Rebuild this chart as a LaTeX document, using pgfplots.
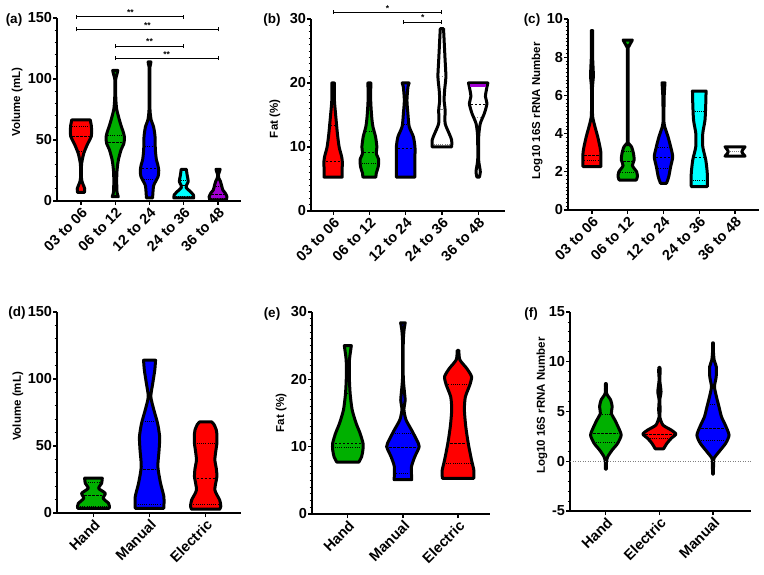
\documentclass[border=0pt]{standalone}
\usepackage{fontspec}
\setmainfont{Liberation Sans}
\usepackage{pgfplots}
\pgfplotsset{compat=1.18}
\usepgfplotslibrary{fillbetween}
\usepackage{pgfplotstable}

\definecolor{vred}{RGB}{255,0,0}
\definecolor{vgreen}{RGB}{0,176,0}
\definecolor{vblue}{RGB}{0,0,255}
\definecolor{vcyan}{RGB}{0,255,255}
\definecolor{vpurple}{RGB}{160,0,210}

% violin outlines: y value and half width (category units)
\pgfplotstableread{
y w
7 0.10
10 0.11
13 0.07
16 0.03
20 0.01
26 0.01
31 0.02
34 0.04
39 0.08
46 0.18
53 0.30
58 0.31
62 0.30
65 0.28
66.5 0.27
}\aRed
\pgfplotstableread{
y w
3.5 0.09
6 0.06
10 0.045
22 0.045
30 0.07
34 0.093
42 0.17
47 0.25
52 0.27
56 0.24
61 0.18
66 0.125
75 0.044
82 0.02
90 0.01
100 0.015
104 0.05
107 0.075
}\aGreen
\pgfplotstableread{
y w
2.5 0.09
7 0.10
13 0.125
20 0.25
25 0.27
30 0.24
34 0.20
42 0.17
53 0.16
61 0.117
66 0.052
72 0.02
80 0.01
108 0.01
112 0.03
114 0.04
}\aBlue
\pgfplotstableread{
y w
2.5 0.29
5 0.28
8 0.18
11 0.07
13 0.08
16 0.13
21 0.10
26 0.075
}\aCyan
\pgfplotstableread{
y w
1 0.24
3.5 0.26
6.5 0.21
9 0.14
12 0.11
16 0.07
19 0.02
21.5 0.01
24 0.04
26 0.06
}\aPurple

\pgfplotstableread{
y w
5.3 0.25
6.4 0.245
7.5 0.257
8.5 0.235
10 0.166
12 0.12
14.7 0.075
17.3 0.036
20 0.035
}\bRed
\pgfplotstableread{
y w
5.3 0.18
5.9 0.19
6.9 0.243
8 0.257
9 0.19
10 0.207
11.6 0.17
13.2 0.097
14.7 0.064
17.3 0.036
20 0.04
}\bGreen
\pgfplotstableread{
y w
5.3 0.257
8.5 0.257
10 0.257
11.6 0.213
13.2 0.097
15.3 0.061
17.3 0.036
19.4 0.064
20 0.097
}\bBlue
\pgfplotstableread{
y w
10 0.27
11.1 0.268
12.1 0.2
13.7 0.088
15.8 0.088
17.3 0.061
18.9 0.075
21 0.11
23.6 0.088
26.7 0.061
28.5 0.045
}\bWhite
\pgfplotstableread{
y w
5.3 0.035
6.1 0.06
6.9 0.04
8 0.012
10.6 0.012
12.1 0.02
13.7 0.06
15.3 0.174
16.8 0.243
17.9 0.2
19.4 0.243
20 0.268
}\bPurple
\pgfplotstableread{
y w
19.35 0.22
19.85 0.22
}\bBand

\pgfplotstableread{
y w
2.27 0.252
2.6 0.252
3.0 0.25
3.3 0.224
3.84 0.16
4.36 0.084
4.88 0.02
5.6 0.01
6.46 0.015
7.0 0.04
7.5 0.03
8.2 0.015
9.39 0.02
}\cRed
\pgfplotstableread{
y w
1.57 0.24
1.74 0.27
2.0 0.25
2.32 0.13
2.62 0.18
2.97 0.16
3.31 0.106
3.5 0.02
3.7 0.01
8.3 0.01
8.55 0.03
8.9 0.13
}\cGreen
\pgfplotstableread{
y w
1.4 0.084
1.74 0.146
2.27 0.2
2.79 0.258
3.31 0.2
3.84 0.126
4.36 0.034
4.71 0.008
5.41 0.014
6.1 0.022
6.66 0.042
}\cBlue
\pgfplotstableread{
y w
1.22 0.224
1.92 0.224
2.62 0.182
3.31 0.098
4.02 0.098
4.71 0.16
5.59 0.182
6.23 0.19
}\cCyan
\pgfplotstableread{
y w
2.82 0.28
3.05 0.19
3.31 0.28
}\cWhite

\pgfplotstableread{
y w
3.5 0.28
5 0.285
7.2 0.27
11 0.173
14.7 0.21
18.4 0.093
22.2 0.146
26 0.157
}\dGreen
\pgfplotstableread{
y w
3.5 0.255
12.2 0.255
22.2 0.196
34.6 0.148
47 0.17
56.9 0.18
66.9 0.143
76.9 0.077
86.8 0.023
96.8 0.057
106.7 0.093
114 0.107
}\dBlue
\pgfplotstableread{
y w
2.8 0.25
5 0.27
9.7 0.25
17.2 0.164
27.1 0.2
33 0.19
39.6 0.164
46 0.18
52 0.2
59 0.2
62 0.19
66 0.15
68 0.107
}\dRed

\pgfplotstableread{
y w
7.7 0.2
8.5 0.25
9.5 0.274
10.5 0.276
12 0.222
13.5 0.149
15.5 0.078
17.9 0.042
20.4 0.027
22.9 0.03
25 0.064
}\eGreen
\pgfplotstableread{
y w
5.1 0.16
7 0.155
8.5 0.215
10 0.295
11 0.25
12.5 0.155
14 0.055
15.5 0.018
16.9 0.04
18.4 0.024
20.4 0.006
25.4 0.006
27.3 0.02
28.4 0.042
}\eBlue
\pgfplotstableread{
y w
5.3 0.285
6.5 0.287
8 0.245
10.5 0.185
13 0.14
15.5 0.115
17.4 0.133
19.2 0.215
20.4 0.245
21.6 0.16
22.9 0.033
24.3 0.015
}\eRed

\pgfplotstableread{
y w
-0.8 0.008
-0.05 0.011
0.45 0.034
1.13 0.118
1.8 0.22
2.63 0.286
3.47 0.228
4.14 0.168
4.81 0.103
5.48 0.118
6.15 0.09
6.82 0.013
7.8 0.008
}\fGreen
\pgfplotstableread{
y w
1.25 0.078
1.8 0.14
2.3 0.22
2.73 0.308
3.14 0.22
3.64 0.065
4.47 0.006
5.15 0.015
6.15 0.006
6.99 0.03
8.16 0.006
9.1 0.015
9.44 0.008
}\fRed
\pgfplotstableread{
y w
-1.3 0.008
-0.2 0.011
0.3 0.019
0.95 0.112
1.8 0.237
2.63 0.3
3.64 0.23
4.47 0.159
5.48 0.112
6.48 0.065
7.49 0.028
8.49 0.06
9.5 0.062
10.17 0.022
11.18 0.006
11.9 0.006
}\fBlue

% #1 centre, #2 fill, #3 table, #4 id
\newcommand{\violin}[4]{%
  \addplot[draw=none, forget plot, smooth, tension=0.4, name path=R#4] table[x expr={#1+\thisrow{w}}, y=y] {#3};
  \addplot[draw=none, forget plot, smooth, tension=0.4, name path=L#4] table[x expr={#1-\thisrow{w}}, y=y] {#3};
  \addplot[fill=#2, draw=black, line width=3pt, line join=round] fill between[of=R#4 and L#4, reverse=true];
}
% bracket: x1, x2, y, cap bottom, cap top
\newcommand{\bracket}[5]{%
  \draw[line width=0.9pt] (axis cs:#1,#3) -- (axis cs:#2,#3);
  \draw[line width=0.9pt] (axis cs:#1,#4) -- (axis cs:#1,#5);
  \draw[line width=0.9pt] (axis cs:#2,#4) -- (axis cs:#2,#5);
}
\newcommand{\stars}[3]{\node[font=\bfseries\fontsize{8.5}{8.5}\selectfont, anchor=south, inner sep=1pt] at (axis cs:#1,#2) {#3};}

\pgfplotsset{
  vio/.style={
    scale only axis, anchor=south west,
    axis lines=left, axis line style={-, line width=1.6pt},
    clip=false, tick align=outside,
    major tick length=4pt, minor tick length=2.5pt,
    tick style={black, line width=1.2pt},
    minor tick style={line width=0.9pt},
    tick label style={font=\bfseries\fontsize{14.5}{14.5}\selectfont},
    /pgf/number format/assume math mode=true,
    xticklabel style={rotate=45, anchor=north east, inner sep=1pt},
    yticklabel style={inner sep=0.8pt},
    ylabel style={font=\bfseries\fontsize{11.5}{11.5}\selectfont, anchor=center},
    minor x tick num=0,
  },
  med/.style={black, line width=0.9pt, dash pattern=on 2.5pt off 1.5pt},
  qrt/.style={black, line width=0.9pt, dash pattern=on 1pt off 1.2pt},
}

\begin{document}
\begin{tikzpicture}
\path (0pt,0pt) rectangle (764pt,574pt);

% (a)
\begin{axis}[vio, at={(57pt,373pt)}, width=184pt, height=183pt,
  xmin=-0.7, xmax=4.67, ymin=0, ymax=150,
  xtick={0,...,4}, xticklabels={03 to 06,06 to 12,12 to 24,24 to 36,36 to 48},
  ytick={0,50,100,150}, minor y tick num=4,
  ylabel={Volume (mL)}, ylabel style={at={(axis description cs:-0.217,0.54)}}]
\violin{0}{vred}{\aRed}{a0}
\violin{1}{vgreen}{\aGreen}{a1}
\violin{2}{vblue}{\aBlue}{a2}
\violin{3}{vcyan}{\aCyan}{a3}
\violin{4}{vpurple}{\aPurple}{a4}
\addplot[med] coordinates {(-0.26,53) (0.26,53)};
\addplot[qrt] coordinates {(-0.26,61) (0.26,61)};
\addplot[qrt] coordinates {(-0.06,40.4) (0.06,40.4)};
\addplot[med] coordinates {(0.79,47.8) (1.21,47.8)};
\addplot[qrt] coordinates {(0.78,54) (1.22,54)};
\addplot[qrt] coordinates {(0.97,26) (1.03,26)};
\addplot[med] coordinates {(1.78,27) (2.22,27)};
\addplot[qrt] coordinates {(1.87,44.5) (2.13,44.5)};
\addplot[qrt] coordinates {(1.83,18) (2.17,18)};
\addplot[med] coordinates {(2.96,12.5) (3.04,12.5)};
\addplot[qrt] coordinates {(2.92,17) (3.08,17)};
\addplot[qrt] coordinates {(2.76,3.5) (3.24,3.5)};
\addplot[med] coordinates {(3.8,5) (4.2,5)};
\addplot[qrt] coordinates {(3.93,12) (4.07,12)};
\addplot[qrt] coordinates {(3.79,2) (4.21,2)};
% significance brackets
\bracket{-0.12}{3}{151}{149.4}{152.6}
\bracket{-0.12}{4}{140.7}{139.1}{142.3}
\bracket{1}{3}{127}{125.4}{128.6}
\bracket{1}{4}{117}{115.4}{118.6}
\stars{1.44}{151}{**}
\stars{1.94}{140.7}{**}
\stars{2}{127}{**}
\stars{2.5}{117}{**}
\end{axis}

% (b)
\begin{axis}[vio, at={(311pt,363pt)}, width=194pt, height=192pt,
  xmin=-0.61, xmax=4.74, ymin=0, ymax=30,
  xtick={0,...,4}, xticklabels={03 to 06,06 to 12,12 to 24,24 to 36,36 to 48},
  ytick={0,10,20,30}, minor y tick num=9,
  ylabel={Fat (\%)}, ylabel style={at={(axis description cs:-0.186,0.48)}}]
\violin{0}{vred}{\bRed}{b0}
\violin{1}{vgreen}{\bGreen}{b1}
\violin{2}{vblue}{\bBlue}{b2}
\violin{3}{white}{\bWhite}{b3}
\violin{4}{white}{\bPurple}{b4}
\addplot[draw=none, forget plot, name path=Rb5] table[x expr={4+\thisrow{w}}, y=y] {\bBand};
\addplot[draw=none, forget plot, name path=Lb5] table[x expr={4-\thisrow{w}}, y=y] {\bBand};
\addplot[fill=vpurple, draw=none] fill between[of=Rb5 and Lb5, reverse=true];
\addplot[med] coordinates {(-0.21,7.8) (0.21,7.8)};
\addplot[qrt] coordinates {(-0.05,13.3) (0.05,13.3)};
\addplot[med] coordinates {(0.84,9.2) (1.16,9.2)};
\addplot[qrt] coordinates {(0.79,7.5) (1.21,7.5)};
\addplot[qrt] coordinates {(0.92,12.5) (1.08,12.5)};
\addplot[med] coordinates {(1.78,9.8) (2.22,9.8)};
\addplot[qrt] coordinates {(1.95,13.5) (2.05,13.5)};
\addplot[qrt, gray] coordinates {(2.93,21) (3.07,21)};
\addplot[med, gray] coordinates {(2.95,15.8) (3.05,15.8)};
\addplot[qrt, gray] coordinates {(2.77,10.4) (3.23,10.4)};
\addplot[med] coordinates {(3.8,16.7) (4.2,16.7)};
\addplot[qrt, gray] coordinates {(3.92,14.6) (4.08,14.6)};
\bracket{0}{3}{31.05}{30.75}{31.35}
\bracket{1.95}{3}{29.5}{29.2}{29.8}
\stars{1.5}{31.05}{*}
\stars{2.47}{29.5}{*}
\end{axis}

% (c)
\begin{axis}[vio, at={(568pt,364pt)}, width=191pt, height=191pt,
  xmin=-0.67, xmax=4.67, ymin=0, ymax=10,
  xtick={0,...,4}, xticklabels={03 to 06,06 to 12,12 to 24,24 to 36,36 to 48},
  ytick={0,2,4,6,8,10}, minor y tick num=9,
  ylabel={Log10 16S rRNA Number}, ylabel style={at={(axis description cs:-0.162,0.52)}}]
\violin{0}{vred}{\cRed}{c0}
\violin{1}{vgreen}{\cGreen}{c1}
\violin{2}{vblue}{\cBlue}{c2}
\violin{3}{vcyan}{\cCyan}{c3}
\violin{4}{white}{\cWhite}{c4}
\addplot[med] coordinates {(-0.21,2.88) (0.21,2.88)};
\addplot[qrt] coordinates {(-0.21,2.57) (0.21,2.57)};
\addplot[med] coordinates {(0.87,2.53) (1.13,2.53)};
\addplot[qrt] coordinates {(0.89,3.05) (1.11,3.05)};
\addplot[qrt] coordinates {(0.79,1.97) (1.21,1.97)};
\addplot[med] coordinates {(1.79,2.74) (2.21,2.74)};
\addplot[qrt] coordinates {(1.85,2.18) (2.15,2.18)};
\addplot[qrt] coordinates {(1.84,3.3) (2.16,3.3)};
\addplot[med] coordinates {(2.875,2.76) (3.125,2.76)};
\addplot[qrt] coordinates {(2.87,5.18) (3.13,5.18)};
\addplot[qrt] coordinates {(2.82,1.54) (3.18,1.54)};
\addplot[qrt, gray] coordinates {(3.85,3.08) (4.15,3.08)};
\end{axis}

% (d)
\begin{axis}[vio, at={(57pt,61pt)}, width=184pt, height=201pt,
  xmin=-0.65, xmax=2.63, ymin=0, ymax=150,
  xtick={0,1,2}, xticklabels={Hand,Manual,Electric},
  ytick={0,50,100,150}, minor y tick num=4,
  ylabel={Volume (mL)}, ylabel style={at={(axis description cs:-0.212,0.53)}}]
\violin{0}{vgreen}{\dGreen}{d0}
\violin{1}{vblue}{\dBlue}{d1}
\violin{2}{vred}{\dRed}{d2}
\addplot[qrt] coordinates {(-0.1,22.6) (0.1,22.6)};
\addplot[med] coordinates {(-0.16,12.9) (0.16,12.9)};
\addplot[qrt] coordinates {(-0.24,5.2) (0.24,5.2)};
\addplot[med] coordinates {(0.885,32.8) (1.115,32.8)};
\addplot[qrt] coordinates {(0.785,6.7) (1.215,6.7)};
\addplot[qrt] coordinates {(0.91,68) (1.09,68)};
\addplot[qrt] coordinates {(1.84,52) (2.16,52)};
\addplot[med] coordinates {(1.84,25.9) (2.16,25.9)};
\addplot[qrt] coordinates {(1.78,6.5) (2.22,6.5)};
\end{axis}

% (e)
\begin{axis}[vio, at={(312pt,60pt)}, width=178pt, height=202pt,
  xmin=-0.65, xmax=2.58, ymin=0, ymax=30,
  xtick={0,1,2}, xticklabels={Hand,Manual,Electric},
  ytick={0,10,20,30}, minor y tick num=9,
  ylabel={Fat (\%)}, ylabel style={at={(axis description cs:-0.174,0.5)}}]
\violin{0}{vgreen}{\eGreen}{e0}
\violin{1}{vblue}{\eBlue}{e1}
\violin{2}{vred}{\eRed}{e2}
\addplot[qrt] coordinates {(-0.02,17.9) (0.02,17.9)};
\addplot[med] coordinates {(-0.236,10.5) (0.236,10.5)};
\addplot[qrt] coordinates {(-0.235,9.9) (0.235,9.9)};
\addplot[qrt] coordinates {(0.855,12) (1.145,12)};
\addplot[med] coordinates {(0.75,9.85) (1.25,9.85)};
\addplot[qrt] coordinates {(0.88,6) (1.12,6)};
\addplot[qrt] coordinates {(1.825,19.3) (2.175,19.3)};
\addplot[med] coordinates {(1.855,10.5) (2.145,10.5)};
\addplot[qrt] coordinates {(1.78,7.5) (2.22,7.5)};
\end{axis}

% (f)
\begin{axis}[vio, at={(570pt,63pt)}, width=181pt, height=199pt,
  xmin=-0.67, xmax=2.71, ymin=-5, ymax=15,
  xtick={0,1,2}, xticklabels={Hand,Electric,Manual},
  ytick={-5,0,5,10,15}, minor y tick num=4,
  ylabel={Log10 16S rRNA Number}, ylabel style={at={(axis description cs:-0.155,0.53)}}]
\addplot[gray, line width=0.9pt, dash pattern=on 1pt off 1.5pt] coordinates {(-0.67,0) (2.71,0)};
\violin{0}{vgreen}{\fGreen}{f0}
\violin{1}{vred}{\fRed}{f1}
\violin{2}{vblue}{\fBlue}{f2}
\addplot[qrt] coordinates {(-0.065,4.7) (0.065,4.7)};
\addplot[med] coordinates {(-0.235,2.8) (0.235,2.8)};
\addplot[qrt] coordinates {(-0.185,1.9) (0.185,1.9)};
\addplot[med] coordinates {(0.732,2.73) (1.268,2.73)};
\addplot[qrt] coordinates {(0.82,2.3) (1.18,2.3)};
\addplot[qrt] coordinates {(1.94,5.75) (2.06,5.75)};
\addplot[med] coordinates {(1.785,3.27) (2.215,3.27)};
\addplot[qrt] coordinates {(1.78,2.13) (2.22,2.13)};
\end{axis}

% panel letters
\foreach \px/\py/\lab in {14/554/(a),272/554/(b),532/554/(c),17/261/(d),272/260/(e),531/260/(f)}
  \node[font=\bfseries\fontsize{13.5}{13.5}\selectfont, inner sep=0pt] at (\px pt,\py pt) {\lab};
\end{tikzpicture}
\end{document}
